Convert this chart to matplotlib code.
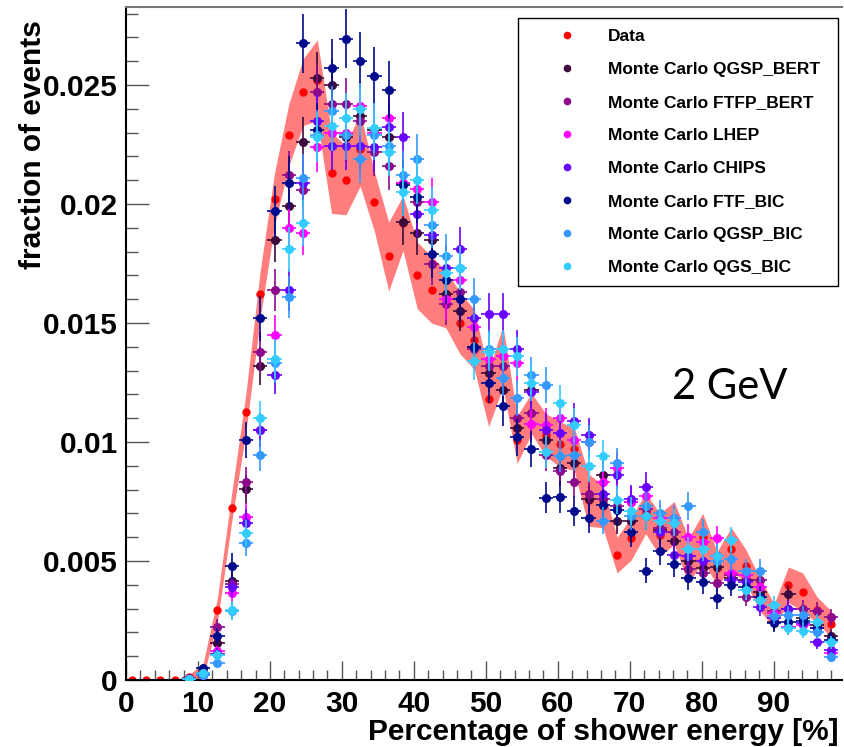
import numpy as np
import matplotlib
matplotlib.use('Agg')
import matplotlib.pyplot as plt
from matplotlib.lines import Line2D
from matplotlib.ticker import MultipleLocator, FixedLocator

plt.rcParams['font.family'] = ['Liberation Sans', 'DejaVu Sans']
plt.rcParams['font.weight'] = 'bold'

nan = np.nan
# bin centres (% of shower energy), 50 bins
x = np.linspace(0.8, 98.0, 50)

# all fractions in units of 1e-3
data = [0, 0, 0, 0, 0.12, 0.4, 2.94, 7.24, 11.25, 16.2,
        20.2, 22.9, 24.7, 25.2, 21.3, 21.0, 22.3, 20.1, 17.8, 19.2,
        17.0, 16.4, 16.0, 15.0, 14.3, 11.8, 13.6, 10.1, 11.2, 10.3,
        9.9, 9.7, 7.56, 7.3, 5.25, 5.95, 7.0, 6.1, 6.6, 5.0,
        6.0, 4.7, 5.5, 4.8, 3.6, 2.7, 4.0, 3.7, 2.95, 2.35]
data_band = [0, 0, 0, 0, 0.1, 0.3, 0.5, 0.6, 0.8, 1.0,
             1.1, 1.3, 1.4, 1.7, 1.7, 1.45, 1.55, 1.25, 1.45, 1.15,
             1.4, 1.4, 1.2, 1.3, 1.25, 1.15, 1.3, 1.0, 0.85, 0.9,
             0.95, 0.9, 1.1, 0.9, 0.75, 0.9, 0.85, 0.9, 0.9, 0.95,
             1.0, 0.7, 0.9, 0.7, 0.7, 0.5, 0.75, 0.8, 0.55, 0.55]

qgsp_bert = [nan, nan, nan, nan, 0.05, 0.25, 1.54, 4.17, 8.01, 13.2,
             18.5, 19.9, 22.6, 25.3, 25.0, 22.8, 23.7, 23.1, 22.8, 19.25,
             18.8, 18.5, 16.2, 15.5, 14.0, 12.9, 12.2, 10.6, 12.2, 10.1,
             8.9, 9.1, 7.6, 8.6, 6.7, 6.7, 6.9, 6.3, 5.84, 5.0,
             4.7, 4.76, 4.3, 4.2, 3.7, 2.45, 3.6, 2.6, 2.3, 1.86]
qgsp_bert_err = [nan, nan, nan, nan, 0.05, 0.1, 0.3, 0.4, 0.6, 0.8,
                 0.95, 1.0, 1.05, 1.1, 1.1, 1.05, 1.05, 1.05, 1.05, 0.95,
                 0.95, 0.95, 0.9, 0.85, 0.8, 0.8, 0.75, 0.7, 0.75, 0.7,
                 0.65, 0.65, 0.6, 0.65, 0.55, 0.55, 0.6, 0.55, 0.55, 0.5,
                 0.5, 0.5, 0.45, 0.45, 0.4, 0.35, 0.4, 0.35, 0.35, 0.3]

ftfp_bert = [nan, nan, nan, nan, 0.1, 0.3, 2.24, 4.03, 8.33, 13.8,
             16.4, 21.2, 20.6, 24.7, 24.2, 24.2, 23.5, 22.2, 21.6, 20.9,
             20.1, 17.5, 15.8, 16.3, 13.9, 13.2, 13.2, 11.0, 11.2, 9.45,
             8.8, 8.3, 7.8, 7.6, 7.3, 7.5, 7.2, 6.4, 6.2, 4.65,
             4.5, 4.06, 4.4, 3.5, 4.2, 2.9, 3.0, 2.97, 2.9, 2.63]
ftfp_bert_err = [nan, nan, nan, nan, 0.07, 0.12, 0.33, 0.44, 0.63, 0.82,
                 0.89, 1.01, 1.0, 1.09, 1.08, 1.08, 1.07, 1.04, 1.02, 1.0,
                 0.99, 0.92, 0.87, 0.89, 0.82, 0.8, 0.8, 0.73, 0.74, 0.68,
                 0.65, 0.63, 0.61, 0.61, 0.59, 0.6, 0.59, 0.56, 0.55, 0.47,
                 0.47, 0.44, 0.46, 0.41, 0.45, 0.37, 0.38, 0.38, 0.37, 0.36]

lhep = [nan, nan, nan, nan, 0.05, 0.2, 1.2, 3.64, 6.86, 10.5,
        14.5, 19.0, 18.8, 22.4, 23.0, 23.0, 24.1, 23.0, 23.6, 20.9,
        20.65, 20.1, 16.0, 16.8, 14.85, 13.5, 13.6, 13.3, 10.75, 10.7,
        11.0, 10.1, 10.0, 8.3, 8.9, 7.5, 7.75, 6.8, 6.8, 6.0,
        5.8, 5.95, 4.5, 4.4, 3.9, 2.8, 2.24, 2.3, 2.2, 1.12]
lhep_err = [nan, nan, nan, nan, 0.05, 0.1, 0.24, 0.42, 0.58, 0.71,
            0.84, 0.96, 0.95, 1.04, 1.06, 1.06, 1.08, 1.06, 1.07, 1.0,
            1.0, 0.99, 0.88, 0.9, 0.85, 0.81, 0.81, 0.8, 0.72, 0.72,
            0.73, 0.7, 0.7, 0.63, 0.66, 0.6, 0.61, 0.57, 0.57, 0.54,
            0.53, 0.54, 0.47, 0.46, 0.43, 0.37, 0.33, 0.33, 0.33, 0.23]

chips = [nan, nan, nan, nan, 0.05, 0.2, 1.1, 3.9, 6.61, 10.5,
         12.8, 16.4, 20.9, 23.5, 22.45, 22.45, 22.45, 22.4, 23.25, 22.8,
         19.6, 18.7, 17.3, 18.1, 15.2, 15.4, 15.4, 13.9, 12.1, 10.5,
         10.4, 10.9, 10.3, 7.8, 8.6, 7.6, 8.1, 6.2, 5.25, 5.2,
         5.0, 5.2, 4.2, 4.1, 3.05, 2.6, 2.97, 2.38, 1.58, 1.26]
chips_err = [nan, nan, nan, nan, 0.05, 0.1, 0.23, 0.43, 0.57, 0.71,
             0.79, 0.89, 1.0, 1.07, 1.04, 1.04, 1.04, 1.04, 1.06, 1.05,
             0.97, 0.95, 0.92, 0.94, 0.86, 0.86, 0.86, 0.82, 0.77, 0.71,
             0.71, 0.73, 0.71, 0.61, 0.65, 0.61, 0.63, 0.55, 0.5, 0.5,
             0.49, 0.5, 0.45, 0.45, 0.38, 0.35, 0.38, 0.34, 0.28, 0.25]

ftf_bic = [nan, nan, nan, nan, 0.05, 0.49, 1.85, 4.79, 10.1, 15.2,
           19.7, 20.9, 26.75, 23.1, 25.7, 26.95, 26.0, 25.4, 24.8, 20.8,
           20.3, 17.9, 16.8, 16.0, 14.0, 12.5, 11.5, 10.2, 9.7, 7.66,
           7.7, 7.1, 6.8, 7.35, 7.14, 6.2, 4.6, 5.4, 4.86, 4.3,
           4.1, 3.43, 4.0, 3.9, 3.5, 2.4, 2.45, 2.5, 2.2, 1.7]
ftf_bic_err = [nan, nan, nan, nan, 0.05, 0.17, 0.33, 0.53, 0.76, 0.94,
               1.07, 1.1, 1.24, 1.15, 1.22, 1.25, 1.22, 1.21, 1.2, 1.09,
               1.08, 1.02, 0.98, 0.96, 0.9, 0.85, 0.81, 0.77, 0.75, 0.66,
               0.67, 0.64, 0.63, 0.65, 0.64, 0.6, 0.51, 0.56, 0.53, 0.5,
               0.49, 0.44, 0.48, 0.47, 0.45, 0.37, 0.38, 0.38, 0.36, 0.31]

qgsp_bic = [nan, nan, nan, nan, 0.05, 0.2, 0.73, 2.9, 5.74, 9.45,
            13.3, 16.1, 21.1, 22.9, 23.9, 22.9, 21.9, 22.9, 22.45, 21.2,
            21.9, 19.1, 17.8, 17.3, 16.0, 13.9, 12.7, 11.85, 12.8, 12.4,
            9.4, 9.45, 10.0, 6.7, 9.1, 6.9, 7.3, 7.0, 6.8, 7.3,
            6.2, 5.0, 5.07, 4.6, 4.6, 2.7, 2.75, 2.75, 2.03, 0.95]
qgsp_bic_err = [nan, nan, nan, nan, 0.05, 0.1, 0.19, 0.37, 0.53, 0.68,
                0.8, 0.88, 1.01, 1.05, 1.08, 1.05, 1.03, 1.05, 1.04, 1.01,
                1.03, 0.96, 0.93, 0.92, 0.88, 0.82, 0.78, 0.76, 0.79, 0.77,
                0.67, 0.68, 0.7, 0.57, 0.66, 0.58, 0.59, 0.58, 0.57, 0.59,
                0.55, 0.49, 0.5, 0.47, 0.47, 0.36, 0.36, 0.36, 0.31, 0.21]

qgs_bic = [nan, nan, nan, nan, 0.05, 0.3, 1.05, 2.94, 6.16, 11.0,
           13.5, 18.1, 19.2, 22.8, 23.3, 23.6, 24.0, 23.2, 22.2, 20.5,
           21.0, 19.75, 17.1, 17.3, 13.4, 13.8, 13.9, 13.6, 12.5, 9.6,
           11.65, 10.7, 9.0, 9.4, 7.56, 7.1, 6.9, 6.7, 6.6, 5.5,
           5.5, 5.2, 5.9, 3.8, 3.36, 3.15, 2.2, 2.07, 2.45, 1.58]
qgs_bic_err = [nan, nan, nan, nan, 0.05, 0.12, 0.23, 0.38, 0.55, 0.73,
               0.81, 0.94, 0.96, 1.05, 1.06, 1.07, 1.08, 1.06, 1.04, 1.0,
               1.01, 0.98, 0.91, 0.92, 0.81, 0.82, 0.82, 0.81, 0.78, 0.68,
               0.75, 0.72, 0.66, 0.67, 0.6, 0.59, 0.58, 0.57, 0.57, 0.52,
               0.52, 0.5, 0.53, 0.43, 0.4, 0.39, 0.33, 0.32, 0.34, 0.28]

series = [
    ('Monte Carlo QGSP_BERT', qgsp_bert, qgsp_bert_err, '#3c0a3c'),
    ('Monte Carlo FTFP_BERT', ftfp_bert, ftfp_bert_err, '#8c0a8c'),
    ('Monte Carlo LHEP', lhep, lhep_err, '#ff00ff'),
    ('Monte Carlo CHIPS', chips, chips_err, '#6a00ff'),
    ('Monte Carlo FTF_BIC', ftf_bic, ftf_bic_err, '#000a8c'),
    ('Monte Carlo QGSP_BIC', qgsp_bic, qgsp_bic_err, '#3399ff'),
    ('Monte Carlo QGS_BIC', qgs_bic, qgs_bic_err, '#33ccff'),
]

ytick_vals = [0, 0.005, 0.01, 0.015, 0.02, 0.025]
ytick_labels = ['0', '0.005', '0.01', '0.015', '0.02', '0.025']
xtick_vals = [0, 10, 20, 30, 40, 50, 60, 70, 80, 90]

fig = plt.figure(figsize=(8.44, 7.47), dpi=100)
ax = fig.add_axes([126 / 844, 1 - 680 / 747, 716 / 844, 673 / 747])

d = np.array(data) * 1e-3
band = np.array(data_band) * 1e-3
ax.fill_between(x, d - band, d + band, color='#ff7d7d', lw=0, zorder=1)
ax.plot(x, d, 'o', color='red', ms=5, zorder=2)

for i, (name, vals, errs, col) in enumerate(series):
    ax.errorbar(x, np.array(vals) * 1e-3, xerr=0.99, yerr=np.array(errs) * 1e-3,
                fmt='o', color=col, ms=5.5, elinewidth=1.2, capsize=0, zorder=3 + i)

ax.set_xlim(0, 99.5)
ax.set_ylim(0, 0.02828)

ax.xaxis.set_major_locator(FixedLocator(xtick_vals))
ax.xaxis.set_minor_locator(MultipleLocator(2))
ax.yaxis.set_major_locator(FixedLocator(ytick_vals))
ax.yaxis.set_minor_locator(MultipleLocator(0.001))
ax.set_yticklabels(ytick_labels)
ax.set_xticklabels([str(v) for v in xtick_vals])

ax.tick_params(axis='x', which='major', direction='in', length=13.5, width=1, color='#555555',
               labelsize=21.5, pad=7, top=False)
ax.tick_params(axis='x', which='minor', direction='in', length=7, width=1, color='#555555', top=False)
ax.tick_params(axis='y', which='major', direction='in', length=16.5, width=1, color='#555555',
               labelsize=21.5, pad=6, right=False)
ax.tick_params(axis='y', which='minor', direction='in', length=8.5, width=1, color='#555555', right=False)

for s in ['left', 'bottom']:
    ax.spines[s].set_linewidth(1.5)
    ax.spines[s].set_color('black')
ax.spines['top'].set_color('#777777')
ax.spines['top'].set_linewidth(1.5)
ax.spines['right'].set_visible(False)

fig.text(838 / 844, 1 - 732 / 747, 'Percentage of shower energy [%]', ha='right', va='center',
         fontsize=21.5, fontweight='bold')
fig.text(33 / 844, 1 - 20 / 747, 'fraction of events', rotation=90, ha='center', va='top',
         fontsize=21.5, fontweight='bold')
fig.text(672 / 844, 1 - 387 / 747, '2 GeV', ha='left', va='center', fontsize=30,
         fontweight='normal', family=['Lato', 'DejaVu Sans'])

handles = [Line2D([], [], ls='', marker='o', color='red', ms=4.5)]
labels = ['Data']
for name, vals, errs, col in series:
    handles.append(Line2D([], [], ls='', marker='o', color=col, ms=4.5))
    labels.append(name)

leg = ax.legend(handles, labels, loc='upper left',
                bbox_to_anchor=((518 - 126) / 716, 0.3, 320 / 716, (680 - 18) / 673 - 0.3),
                mode='expand', borderaxespad=0, borderpad=0.62, handlelength=4.4,
                handletextpad=0.15, labelspacing=1.03, fancybox=False, framealpha=1,
                edgecolor='black', prop={'size': 12.5, 'weight': 'bold'})
leg.get_frame().set_linewidth(1.0)
leg.set_zorder(20)

fig.savefig('out.png', dpi=100)
